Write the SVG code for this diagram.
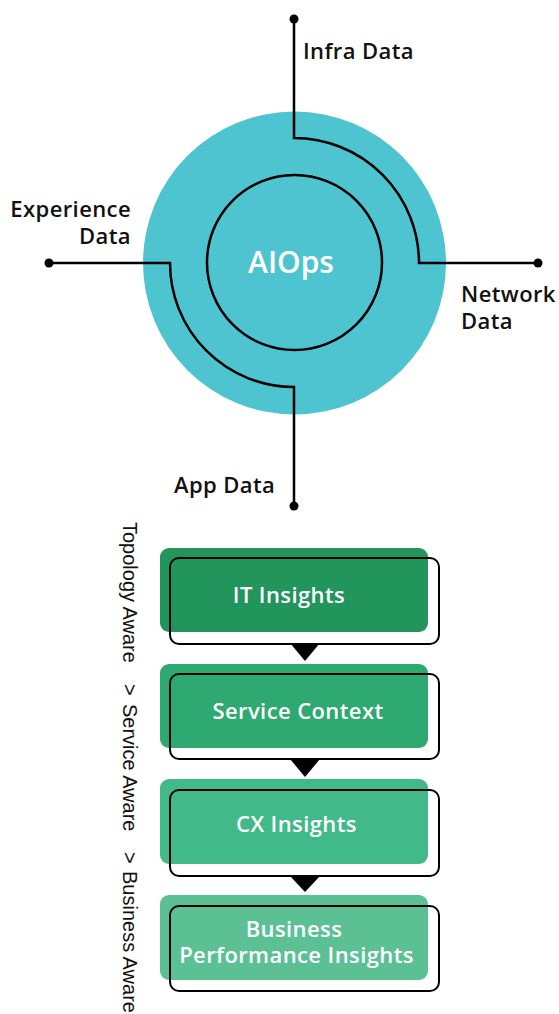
<svg xmlns="http://www.w3.org/2000/svg" width="559" height="1014" viewBox="0 0 559 1014">
<style>
.lbl{font-family:"Open Sans","Noto Sans",sans-serif;font-size:22px;font-weight:600;letter-spacing:0.4px;fill:#111}
.btxt{font-family:"Open Sans","Noto Sans",sans-serif;font-size:22px;font-weight:600;letter-spacing:0.4px;fill:#fff;text-anchor:middle}
.wire{fill:none;stroke:#000;stroke-width:2.5}
.dot{fill:#000}
.outline{fill:none;stroke:#000;stroke-width:2}
.arrow{fill:#000}
.side{font-family:"Liberation Sans",Arial,sans-serif;font-size:20px;fill:#111}
</style>
<rect width="559" height="1014" fill="#fff"/>
<g id="hub">
<circle cx="294.5" cy="263" r="151.5" fill="#4EC4D1"/>
<circle cx="294.5" cy="262.5" r="87.5" fill="none" stroke="#000" stroke-width="2.5"/>
<text x="291" y="273" font-family="'Open Sans','Noto Sans',sans-serif" font-size="30" font-weight="600" fill="#fff" text-anchor="middle">AIOps</text>
</g>
<g id="connectors">
<path class="wire" d="M294,19 V138 A125,125 0 0 1 419,263 H538"/>
<path class="wire" d="M49,263 H170 A124,124 0 0 0 294,387 V506"/>
<circle class="dot" cx="294" cy="19" r="4.5"/>
<circle class="dot" cx="538" cy="263" r="4.5"/>
<circle class="dot" cx="49" cy="263" r="4.5"/>
<circle class="dot" cx="294" cy="506" r="4.5"/>
<path class="arrow" d="M290,643 H320 L305,661 Z"/>
<path class="arrow" d="M290,759 H320 L305,777 Z"/>
<path class="arrow" d="M290,876 H320 L305,892 Z"/>
</g>
<g id="label-infra"><text class="lbl" x="303" y="59">Infra Data</text></g>
<g id="label-experience"><text class="lbl" x="131" y="217" text-anchor="end">Experience</text><text class="lbl" x="131" y="244" text-anchor="end">Data</text></g>
<g id="label-network"><text class="lbl" x="461" y="302">Network</text><text class="lbl" x="461" y="329">Data</text></g>
<g id="label-app"><text class="lbl" x="174" y="493">App Data</text></g>
<g id="side-label" transform="translate(123,0) rotate(90)">
<text class="side" x="522" y="0">Topology Aware</text>
<text class="side" x="684" y="0">&gt;</text>
<text class="side" x="704" y="0">Service Aware</text>
<text class="side" x="852" y="0">&gt;</text>
<text class="side" x="871" y="0">Business Aware</text>
</g>
<g id="box-it">
<rect x="160" y="548" width="268" height="84" rx="9" fill="#22955C"/>
<rect class="outline" x="170" y="558" width="269" height="86" rx="9"/>
<text class="btxt" x="289" y="603">IT Insights</text>
</g>
<g id="box-service">
<rect x="160" y="664" width="268" height="84" rx="9" fill="#2DA971"/>
<rect class="outline" x="170" y="674" width="269" height="85" rx="9"/>
<text class="btxt" x="298" y="719">Service Context</text>
</g>
<g id="box-cx">
<rect x="160" y="779" width="268" height="85" rx="9" fill="#41B988"/>
<rect class="outline" x="170" y="790" width="269" height="86" rx="9"/>
<text class="btxt" x="296.5" y="832">CX Insights</text>
</g>
<g id="box-business">
<rect x="160" y="895" width="268" height="85" rx="9" fill="#5BC195"/>
<rect class="outline" x="170" y="906" width="269" height="85" rx="9"/>
<text class="btxt" x="294" y="937">Business</text>
<text class="btxt" x="296.5" y="963">Performance Insights</text>
</g>
</svg>
